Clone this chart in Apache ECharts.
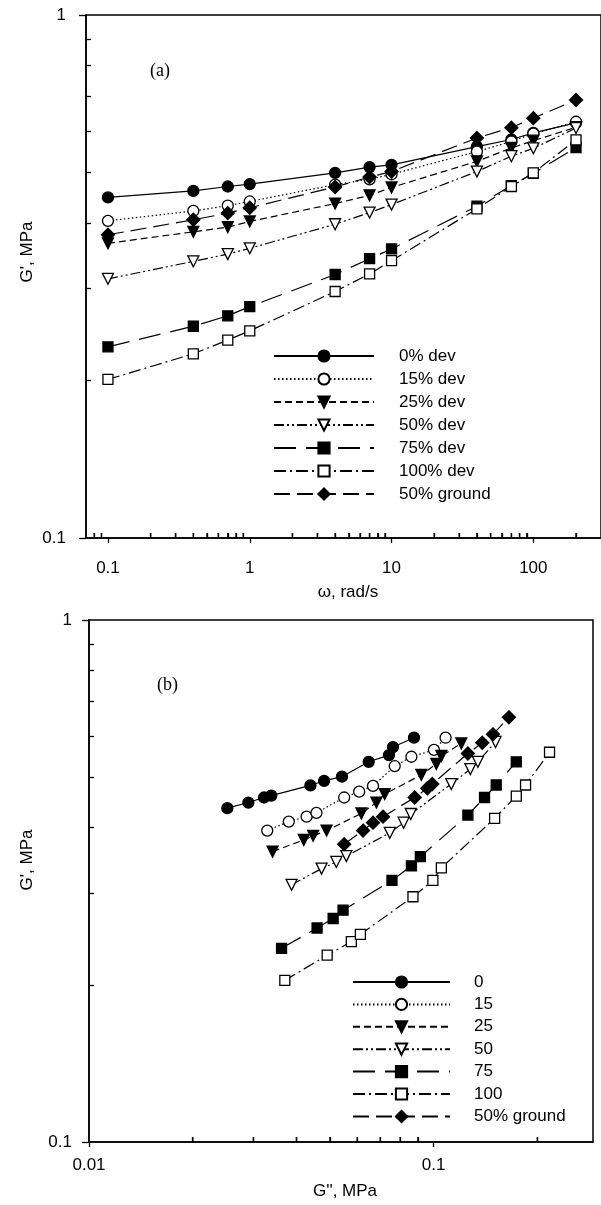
<!DOCTYPE html>
<html>
<head>
<meta charset="utf-8">
<script src="https://cdn.jsdelivr.net/npm/echarts@6/dist/echarts.min.js"></script>
<style>
html,body{margin:0;padding:0;background:#fff;}
#c{width:601px;height:1205px;}
</style>
</head>
<body>
<div id="c"></div>
<script>
// ---- data ----
var omega = [0.1, 0.4, 0.7, 1, 4, 7, 10, 40, 70, 100, 200];
// panel (a): G' (MPa) vs omega
var gp0 = [0.448, 0.461, 0.470, 0.475, 0.499, 0.512, 0.517, 0.560, 0.578, 0.595, 0.622];
var gp15 = [0.404, 0.422, 0.432, 0.440, 0.474, 0.485, 0.496, 0.548, 0.573, 0.593, 0.625];
var gp25 = [0.366, 0.385, 0.393, 0.403, 0.436, 0.452, 0.468, 0.525, 0.557, 0.575, 0.610];
var gp50 = [0.313, 0.338, 0.349, 0.358, 0.398, 0.419, 0.434, 0.502, 0.537, 0.556, 0.608];
var gp75 = [0.232, 0.254, 0.266, 0.277, 0.319, 0.342, 0.357, 0.431, 0.472, 0.498, 0.558];
var gp100 = [0.201, 0.225, 0.239, 0.249, 0.296, 0.320, 0.339, 0.426, 0.470, 0.499, 0.577];
var gpGround = [0.380, 0.406, 0.418, 0.428, 0.469, 0.490, 0.502, 0.582, 0.609, 0.635, 0.688];
// panel (b): G'' (MPa)
var gpp0 = [0.0252, 0.0290, 0.0322, 0.0338, 0.0439, 0.0481, 0.0542, 0.0648, 0.0742, 0.0762, 0.0877];
var gpp15 = [0.0329, 0.0380, 0.0428, 0.0457, 0.0550, 0.0608, 0.0667, 0.0771, 0.0862, 0.1002, 0.1083];
var gpp25 = [0.0341, 0.0420, 0.0447, 0.0489, 0.0617, 0.0682, 0.0721, 0.0921, 0.1018, 0.1053, 0.1203];
var gpp50 = [0.0387, 0.0473, 0.0522, 0.0558, 0.0746, 0.0818, 0.0858, 0.1125, 0.1278, 0.1344, 0.1512];
var gpp75 = [0.0362, 0.0459, 0.0511, 0.0546, 0.0757, 0.0862, 0.0915, 0.1257, 0.1405, 0.1519, 0.1737];
var gpp100 = [0.0370, 0.0491, 0.0577, 0.0613, 0.0871, 0.0995, 0.1053, 0.1503, 0.1737, 0.1848, 0.2169];
var gppGround = [0.0550, 0.0624, 0.0667, 0.0713, 0.0881, 0.0959, 0.0991, 0.1257, 0.1384, 0.1486, 0.1653];
// panel (b): G' (MPa)
var gpb0 = [0.436, 0.447, 0.457, 0.461, 0.482, 0.492, 0.501, 0.535, 0.551, 0.571, 0.595];
var gpb15 = [0.395, 0.411, 0.420, 0.427, 0.457, 0.469, 0.481, 0.525, 0.547, 0.564, 0.595];
var gpb25 = [0.360, 0.379, 0.386, 0.395, 0.426, 0.447, 0.464, 0.505, 0.530, 0.549, 0.580];
var gpb50 = [0.311, 0.334, 0.344, 0.353, 0.391, 0.409, 0.425, 0.485, 0.518, 0.535, 0.584];
var gpb75 = [0.235, 0.257, 0.268, 0.278, 0.317, 0.338, 0.352, 0.423, 0.457, 0.483, 0.535];
var gpb100 = [0.204, 0.228, 0.242, 0.250, 0.295, 0.317, 0.335, 0.417, 0.460, 0.483, 0.558];
var gpbGround = [0.372, 0.395, 0.409, 0.420, 0.457, 0.476, 0.485, 0.555, 0.582, 0.604, 0.651];

var namesA = ['0% dev', '15% dev', '25% dev', '50% dev', '75% dev', '100% dev', '50% ground'];
var namesB = ['0', '15', '25', '50', '75', '100', '50% ground '];

// tick labels
var xMajorA = [0.1, 1, 10, 100];
var xMinorA = [0.08, 0.09, 0.2, 0.3, 0.4, 0.5, 0.6, 0.7, 0.8, 0.9, 2, 3, 4, 5, 6, 7, 8, 9, 20, 30, 40, 50, 60, 70, 80, 90, 200];
var yMajor = [0.1, 1];
var yMinor = [0.2, 0.3, 0.4, 0.5, 0.6, 0.7, 0.8, 0.9];
var xMajorB = [0.01, 0.1];
var xMinorB = [0.02, 0.03, 0.04, 0.05, 0.06, 0.07, 0.08, 0.09, 0.2];

// ---- styles ----
var FONT = 'Liberation Sans, Arial, sans-serif';
var styles = [
  {symbol: 'circle', fill: '#000', dash: 'solid', size: 11},
  {symbol: 'circle', fill: '#fff', dash: [1.5, 2.5], size: 11},
  {symbol: 'triangle', fill: '#000', dash: [7, 4], size: 11, rot: 180},
  {symbol: 'triangle', fill: '#fff', dash: [10, 3, 2, 3, 2, 3], size: 11, rot: 180},
  {symbol: 'rect', fill: '#000', dash: [22, 10], size: 10},
  {symbol: 'rect', fill: '#fff', dash: [12, 4, 2, 4], size: 10},
  {symbol: 'diamond', fill: '#000', dash: [16, 7], size: 13}
];

var gA = [gp0, gp15, gp25, gp50, gp75, gp100, gpGround];
var gBx = [gpp0, gpp15, gpp25, gpp50, gpp75, gpp100, gppGround];
var gBy = [gpb0, gpb15, gpb25, gpb50, gpb75, gpb100, gpbGround];

function mkSeries(name, data, st, xi, yi) {
  return {
    name: name, type: 'line', xAxisIndex: xi, yAxisIndex: yi,
    data: data, symbol: st.symbol, symbolSize: st.size, symbolRotate: st.rot || 0,
    showAllSymbol: true, animation: false, z: 3,
    lineStyle: {color: '#000', width: 1.2, type: st.dash},
    itemStyle: {color: st.fill, borderColor: '#000', borderWidth: 1.3}
  };
}

var series = [];
for (var i = 0; i < 7; i++) {
  series.push(mkSeries(namesA[i], omega.map(function (w, k) { return [w, gA[i][k]]; }), styles[i], 0, 0));
}
for (var j = 0; j < 7; j++) {
  series.push(mkSeries(namesB[j], gBx[j].map(function (v, k) { return [v, gBy[j][k]]; }), styles[j], 1, 1));
}

// inward minor ticks on the bottom axes, positioned through the axis scale
function minorTickSeries(xi, yi, ticks, yBase) {
  return {
    type: 'custom', coordinateSystem: 'cartesian2d', xAxisIndex: xi, yAxisIndex: yi,
    silent: true, clip: false, z: 5,
    data: ticks.map(function (v) { return [v, yBase]; }),
    encode: {x: 0, y: 1},
    renderItem: function (params, api) {
      var p = api.coord([api.value(0), api.value(1)]);
      return {type: 'line', shape: {x1: p[0], y1: p[1], x2: p[0], y2: p[1] - 5},
              style: {stroke: '#000', lineWidth: 1.4}};
    }
  };
}
series.push(minorTickSeries(0, 0, xMinorA, 0.1));
series.push(minorTickSeries(1, 1, xMinorB, 0.1));

function majorAxis(grid, pos, min, max, ticks, isX, margin) {
  return {
    type: 'log', logBase: 10, gridIndex: grid, position: pos, min: min, max: max,
    axisLine: {show: true, onZero: false, lineStyle: {color: '#000', width: 1.5}},
    axisTick: {show: true, inside: false, length: isX ? 5 : 7, customValues: ticks, lineStyle: {color: '#000', width: 1.3}},
    axisLabel: {show: true, customValues: ticks, margin: margin, color: '#000', fontSize: 17, fontFamily: FONT,
      formatter: function (v) { return String(+(+v).toPrecision(6)); }},
    splitLine: {show: false}, minorTick: {show: false}
  };
}
function minorAxis(grid, pos, min, max, ticks) {
  return {
    type: 'log', logBase: 10, gridIndex: grid, position: pos, min: min, max: max,
    axisLine: {show: false, onZero: false},
    axisTick: {show: true, inside: true, length: 5, customValues: ticks, lineStyle: {color: '#000', width: 1.3}},
    axisLabel: {show: false}, splitLine: {show: false}
  };
}

var option = {
  backgroundColor: '#fff',
  animation: false,
  grid: [
    {left: 86, top: 15, width: 523, height: 523, show: true, borderColor: '#000', borderWidth: 1.5, backgroundColor: 'transparent'},
    {left: 89, top: 620, width: 504, height: 522, show: true, borderColor: '#000', borderWidth: 1.5, backgroundColor: 'transparent'}
  ],
  xAxis: [
    majorAxis(0, 'bottom', 0.07, 300, xMajorA, true, 22),
    majorAxis(1, 'bottom', 0.01, 0.29, xMajorB, true, 15),
    minorAxis(0, 'bottom', 0.07, 300, xMinorA),
    minorAxis(1, 'bottom', 0.01, 0.29, xMinorB)
  ],
  yAxis: [
    majorAxis(0, 'left', 0.1, 1, yMajor, false, 20),
    majorAxis(1, 'left', 0.1, 1, yMajor, false, 17),
    minorAxis(0, 'left', 0.1, 1, yMinor),
    minorAxis(1, 'left', 0.1, 1, yMinor)
  ],
  legend: [
    {data: namesA, orient: 'vertical', left: 273, top: 347.5, padding: 0, itemWidth: 100, itemHeight: 14, itemGap: 6,
     selectedMode: false, textStyle: {fontSize: 17, fontFamily: FONT, color: '#000', padding: [0, 0, 0, 20]}},
    {data: namesB, orient: 'vertical', left: 352, top: 973.5, padding: 0, itemWidth: 97, itemHeight: 14, itemGap: 5.4,
     selectedMode: false, textStyle: {fontSize: 17, fontFamily: FONT, color: '#000', padding: [0, 0, 0, 19]}}
  ],
  graphic: [
    {type: 'text', left: 150, top: 62, style: {text: '(a)', font: '18px "Liberation Serif", "Times New Roman", serif', fill: '#000'}},
    {type: 'text', left: 157, top: 676, style: {text: '(b)', font: '18px "Liberation Serif", "Times New Roman", serif', fill: '#000'}},
    {type: 'text', x: 348, y: 592, style: {text: 'ω, rad/s', font: '17px ' + FONT, fill: '#000', align: 'center', verticalAlign: 'middle'}},
    {type: 'text', x: 345, y: 1191, style: {text: 'G\'\', MPa', font: '17px ' + FONT, fill: '#000', align: 'center', verticalAlign: 'middle'}},
    {type: 'text', x: 27, y: 252, rotation: Math.PI / 2, style: {text: 'G\', MPa', font: '17px ' + FONT, fill: '#000', align: 'center', verticalAlign: 'middle'}},
    {type: 'text', x: 27, y: 860, rotation: Math.PI / 2, style: {text: 'G\', MPa', font: '17px ' + FONT, fill: '#000', align: 'center', verticalAlign: 'middle'}}
  ],
  series: series
};
var chart = echarts.init(document.getElementById('c'), null, {renderer: 'canvas'});
chart.setOption(option);
</script>
</body>
</html>
